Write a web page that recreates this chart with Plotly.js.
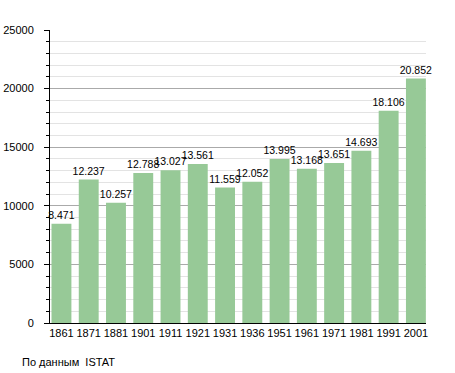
<!DOCTYPE html>
<html>
<head>
<meta charset="utf-8">
<script src="https://cdn.plot.ly/plotly-3.0.1.min.js"></script>
<style>html,body{margin:0;padding:0;background:#fff;}#chart{width:455px;height:373px;}</style>
</head>
<body>
<div id="chart"></div>
<script>
const years = ["1861","1871","1881","1901","1911","1921","1931","1936","1951","1961","1971","1981","1991","2001"];
const population = [8471,12237,10257,12788,13027,13561,11559,12052,13995,13168,13651,14693,18106,20852];
const valueLabels = ["8.471","12.237","10.257","12.788","13.027","13.561","11.559","12.052","13.995","13.168","13.651","14.693","18.106","20.852"];
const yTickVals = [0,5000,10000,15000,20000,25000];
const sourceNote = "По данным  ISTAT";

const FONT = "Liberation Sans, Arial, sans-serif";

const trace = {
  type: "bar",
  x: years.map((y, i) => i),
  y: population,
  text: valueLabels,
  textposition: "outside",
  constraintext: "none",
  textfont: {family: FONT, size: 10.5, color: "#000"},
  cliponaxis: false,
  marker: {color: "#97c997", line: {width: 0}},
  hoverinfo: "none"
};

const layout = {
  width: 455,
  height: 373,
  margin: {l: 50, r: 29, t: 30, b: 50},
  paper_bgcolor: "#fff",
  plot_bgcolor: "#fff",
  showlegend: false,
  bargap: 0.27,
  font: {family: FONT, size: 11, color: "#000"},
  xaxis: {
    type: "linear",
    range: [-0.42, 13.37],
    tickvals: years.map((y, i) => i),
    ticktext: years,
    showgrid: false,
    zeroline: false,
    showline: true,
    linecolor: "#000",
    linewidth: 1,
    ticks: "",
    tickfont: {family: FONT, size: 11, color: "#000"},
    fixedrange: true
  },
  yaxis: {
    range: [0, 25000],
    tickvals: yTickVals,
    ticktext: yTickVals.map(String),
    showgrid: true,
    gridcolor: "#aaaaaa",
    gridwidth: 1,
    zeroline: false,
    showline: true,
    linecolor: "#000",
    linewidth: 1,
    ticks: "outside",
    ticklen: 5,
    tickcolor: "#000",
    tickwidth: 1,
    ticklabelstandoff: 8,
    tickfont: {family: FONT, size: 11, color: "#000"},
    minor: {
      dtick: 1000,
      ticks: "outside",
      ticklen: 3,
      tickcolor: "#000",
      showgrid: true,
      gridcolor: "#e3e3e3",
      gridwidth: 1
    },
    fixedrange: true
  },
  annotations: [{
    xref: "paper", yref: "paper",
    x: -30/376, y: -39/293,
    xanchor: "left", yanchor: "middle",
    text: sourceNote,
    showarrow: false,
    font: {family: FONT, size: 11, color: "#000"}
  }]
};

Plotly.newPlot("chart", [trace], layout, {displayModeBar: false, staticPlot: true});
</script>
</body>
</html>
